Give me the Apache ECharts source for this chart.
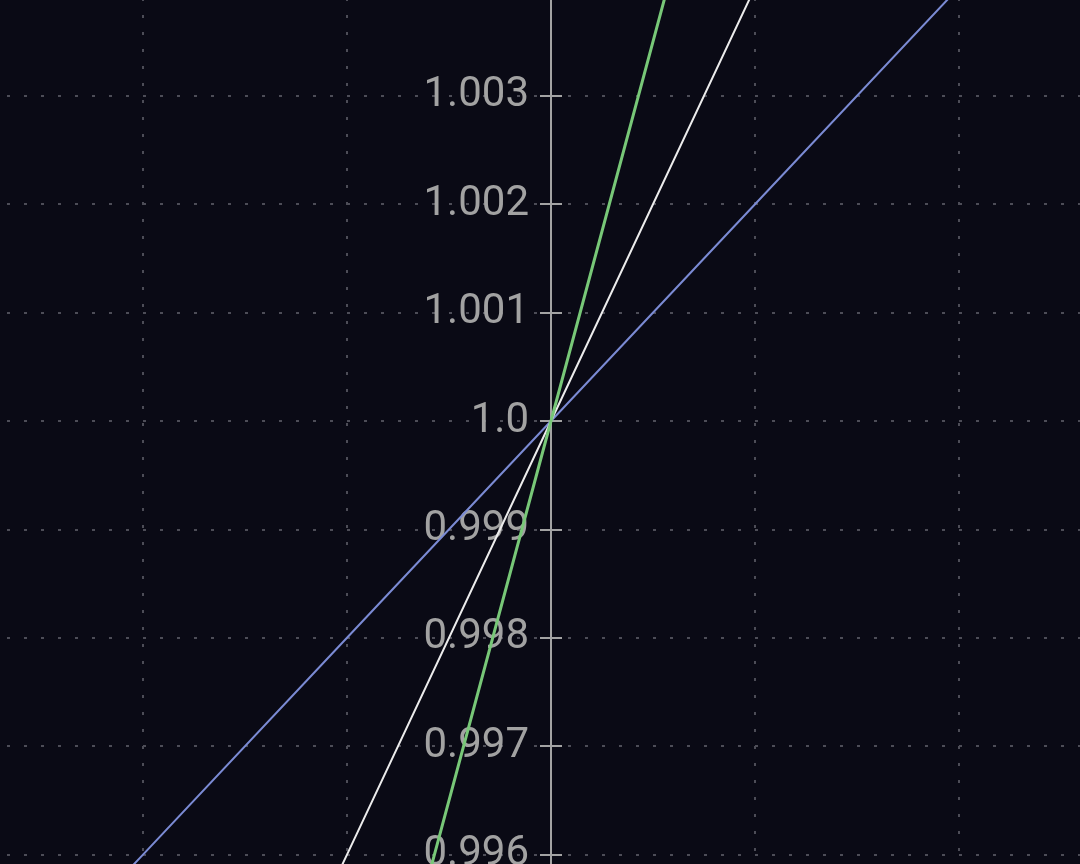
<!DOCTYPE html>
<html>
<head>
<meta charset="utf-8">
<script src="https://cdn.jsdelivr.net/npm/echarts@6/dist/echarts.min.js"></script>
<style>
html,body{margin:0;padding:0;background:#0a0a15;}
#chart{width:1080px;height:864px;}
</style>
</head>
<body>
<div id="chart"></div>
<script>
// x sample positions
const xValues = [-0.006, -0.004, -0.002, 0, 0.002, 0.004, 0.006];
// series values
const blueValues  = [0.994, 0.996, 0.998, 1.0, 1.002, 1.004, 1.006];
const whiteValues = [0.988, 0.992, 0.996, 1.0, 1.004, 1.008, 1.012];
const greenValues = [0.979, 0.986, 0.993, 1.0, 1.007, 1.014, 1.021];
// y tick labels
const yTickValues = [0.995, 0.996, 0.997, 0.998, 0.999, 1.0, 1.001, 1.002, 1.003, 1.004, 1.005];
const yTickLabels = ['0.995', '0.996', '0.997', '0.998', '0.999', '1.0', '1.001', '1.002', '1.003', '1.004', '1.005'];

const labelMap = {};
yTickValues.forEach((v, i) => { labelMap[v.toFixed(3)] = yTickLabels[i]; });

function pairs(ys) { return xValues.map((x, i) => [x, ys[i]]); }

const chart = echarts.init(document.getElementById('chart'), null, {renderer: 'canvas'});
const gridLine = {show: true, lineStyle: {color: '#4d4d57', width: 2, type: [3, 14]}};
const gridBox = {left: -61, right: -83, top: -121, bottom: -99, containLabel: false, outerBoundsMode: 'none'};
chart.setOption({
  backgroundColor: '#0a0a15',
  animation: false,
  grid: [Object.assign({}, gridBox), Object.assign({}, gridBox)],
  xAxis: [{
    gridIndex: 0, type: 'value', min: -0.006, max: 0.006, interval: 0.002,
    axisLine: {show: false}, axisTick: {show: false}, axisLabel: {show: false},
    splitLine: gridLine
  }, {
    gridIndex: 1, type: 'value', min: -0.006, max: 0.006, interval: 0.002,
    axisLine: {show: false}, axisTick: {show: false}, axisLabel: {show: false},
    splitLine: {show: false}
  }],
  yAxis: [{
    gridIndex: 0, type: 'value', min: 0.995, max: 1.005, interval: 0.001, position: 'left', offset: -612,
    axisLine: {show: true, onZero: false, lineStyle: {color: '#a3a3a3', width: 2}},
    axisTick: {show: true, length: 11, lineStyle: {color: '#a3a3a3', width: 2}},
    axisLabel: {
      show: true, color: '#a2a2a2', fontSize: 42, fontFamily: 'Roboto', margin: 22,
      showMinLabel: true, showMaxLabel: true,
      formatter: v => labelMap[v.toFixed(3)] || ''
    },
    splitLine: gridLine
  }, {
    gridIndex: 1, type: 'value', min: 0.995, max: 1.005, interval: 0.001, position: 'left', offset: -612,
    axisLine: {show: false, onZero: false},
    axisTick: {show: true, inside: true, length: 11, lineStyle: {color: '#a3a3a3', width: 2}},
    axisLabel: {show: false},
    splitLine: {show: false}
  }],
  series: [
    {type: 'line', xAxisIndex: 0, yAxisIndex: 0, data: pairs(blueValues), showSymbol: false, lineStyle: {color: '#7b8bd4', width: 2}, z: 3},
    {type: 'line', xAxisIndex: 0, yAxisIndex: 0, data: pairs(whiteValues), showSymbol: false, lineStyle: {color: '#ececec', width: 2}, z: 4},
    {type: 'line', xAxisIndex: 0, yAxisIndex: 0, data: pairs(greenValues), showSymbol: false, lineStyle: {color: '#78c878', width: 3}, z: 5}
  ]
});
</script>
</body>
</html>
